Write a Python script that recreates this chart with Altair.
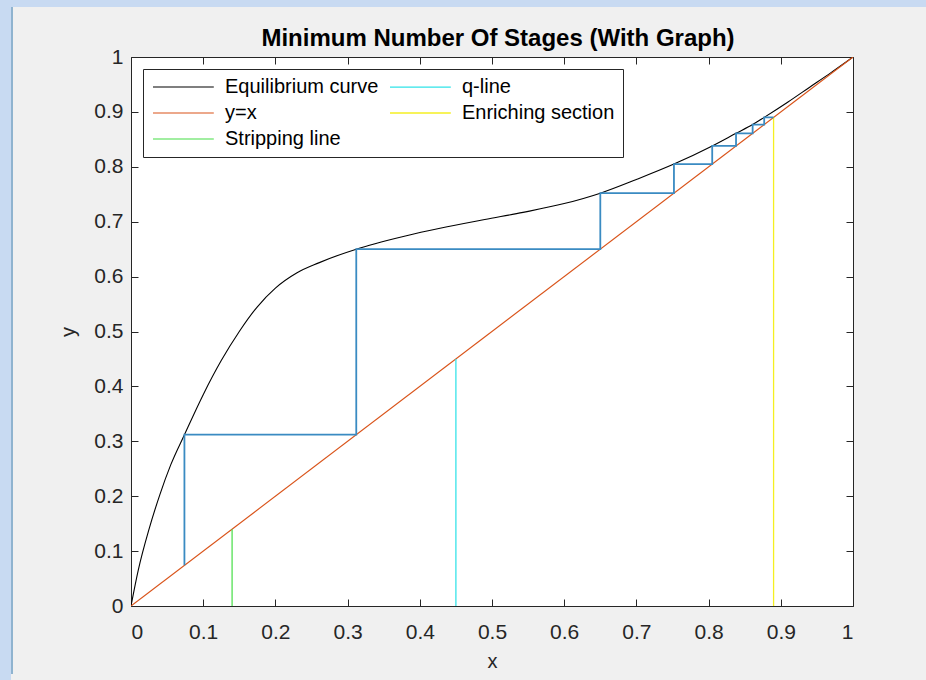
import altair as alt
import pandas as pd

# ---------------- data ----------------
eq_x = [0.0, 0.01, 0.025, 0.04, 0.055, 0.074, 0.10, 0.125, 0.15, 0.175, 0.20, 0.23,
        0.26, 0.312, 0.338, 0.38, 0.428, 0.49, 0.543, 0.60, 0.65, 0.70, 0.752, 0.805,
        0.838, 0.861, 0.877, 0.91, 0.94, 0.97, 1.0]
eq_y = [0.0, 0.065, 0.14, 0.203, 0.257, 0.312, 0.385, 0.447, 0.50, 0.545, 0.579, 0.607,
        0.625, 0.65, 0.66, 0.674, 0.688, 0.704, 0.717, 0.733, 0.752, 0.777, 0.805, 0.838,
        0.861, 0.877, 0.89, 0.918, 0.945, 0.972, 1.0]
diag_x = [0.0, 1.0]
diag_y = [0.0, 1.0]
x_w = 0.14   # stripping line
x_f = 0.45   # q-line
x_d = 0.89   # enriching section

stair_x = [0.89, 0.877, 0.877, 0.861, 0.861, 0.838, 0.838, 0.805, 0.805, 0.752,
           0.752, 0.65, 0.65, 0.312, 0.312, 0.074, 0.074]
stair_y = [0.89, 0.89, 0.877, 0.877, 0.861, 0.861, 0.838, 0.838, 0.805, 0.805,
           0.752, 0.752, 0.65, 0.65, 0.312, 0.312, 0.074]

ticks = [0.0, 0.1, 0.2, 0.3, 0.4, 0.5, 0.6, 0.7, 0.8, 0.9, 1.0]

series_order = ["Equilibrium curve", "y=x", "Stripping line", "q-line", "Enriching section"]
series_colors = ["#000000", "#D95319", "#45DE45", "#2FE3E8", "#F4EF22"]
series_widths = [1.1, 1.3, 1.6, 1.5, 1.6]

TITLE = "Minimum Number Of Stages (With Graph)"

rows = []
for i, (a, b) in enumerate(zip(eq_x, eq_y)):
    rows.append(("Equilibrium curve", a, b, i))
for i, (a, b) in enumerate(zip(diag_x, diag_y)):
    rows.append(("y=x", a, b, i))
for name, xv in [("Stripping line", x_w), ("q-line", x_f), ("Enriching section", x_d)]:
    rows.append((name, xv, 0.0, 0))
    rows.append((name, xv, xv, 1))
df = pd.DataFrame(rows, columns=["series", "x", "y", "ord"])

stairs = pd.DataFrame({"x": stair_x, "y": stair_y, "ord": list(range(len(stair_x)))})

FONT = "Liberation Sans"
AX_COLOR = "#262626"

xs = alt.Scale(domain=[0, 1], nice=False, zero=False)
ys = alt.Scale(domain=[0, 1], nice=False, zero=False)

base_axis = dict(values=ticks, format=".1~f", offset=-7, tickSize=7, domain=False,
                 grid=False, tickColor=AX_COLOR, labelColor=AX_COLOR,
                 labelFont=FONT, labelFontSize=21, tickWidth=1)
title_axis = dict(titleFont=FONT, titleFontSize=20, titleColor=AX_COLOR,
                  titleFontWeight="normal")

lines = alt.Chart(df).mark_line(clip=True, interpolate="monotone").encode(
    x=alt.X("x:Q", scale=xs,
            axis=alt.Axis(orient="bottom", title="x", labelPadding=15, titlePadding=9,
                          **base_axis, **title_axis)),
    y=alt.Y("y:Q", scale=ys,
            axis=alt.Axis(orient="left", title="y", labelPadding=8, titlePadding=15,
                          **base_axis, **title_axis)),
    color=alt.Color("series:N", scale=alt.Scale(domain=series_order, range=series_colors),
                    legend=alt.Legend(title=None, orient="none", legendX=12, legendY=12,
                                      columns=2, direction="vertical",
                                      symbolType="M-1,0H6.6", symbolSize=256,
                                      symbolStrokeWidth=1.2, labelFont=FONT,
                                      labelFontSize=20, labelColor="#000000",
                                      labelOffset=54, columnPadding=8, rowPadding=6,
                                      padding=8, strokeColor=AX_COLOR, fillColor="white",
                                      cornerRadius=0, labelLimit=400)),
    strokeWidth=alt.StrokeWidth("series:N",
                                scale=alt.Scale(domain=series_order, range=series_widths),
                                legend=None),
    order="ord:Q",
)

plain_axis = dict(title=None, labels=False, **base_axis)
stair_layer = alt.Chart(stairs).mark_line(color="#3A8BC2", strokeWidth=1.8, clip=True).encode(
    x=alt.X("x:Q", scale=xs, axis=alt.Axis(orient="top", **plain_axis)),
    y=alt.Y("y:Q", scale=ys, axis=alt.Axis(orient="right", **plain_axis)),
    order="ord:Q",
)

one = pd.DataFrame({"k": [0]})
left_strip = alt.Chart(one).mark_rect(color="#c8daf2").encode(
    x=alt.value(-131), x2=alt.value(-120), y=alt.value(-57), y2=alt.value(623))
left_line = alt.Chart(one).mark_rect(color="#8fb3cf").encode(
    x=alt.value(-120), x2=alt.value(-118), y=alt.value(-50), y2=alt.value(617))
top_strip = alt.Chart(one).mark_rect(color="#c8daf2").encode(
    x=alt.value(-131), x2=alt.value(795), y=alt.value(-57), y2=alt.value(-50))
title_text = alt.Chart(one).mark_text(
    text=TITLE, font=FONT, fontSize=24, fontWeight="bold", color="#000000",
    align="center", baseline="alphabetic").encode(x=alt.value(367), y=alt.value(-11))

chart = alt.layer(left_strip, left_line, top_strip, title_text, lines, stair_layer).resolve_axis(
    x="independent", y="independent"
).properties(
    width=722, height=549,
    autosize=alt.AutoSizeParams(type="none"),
    padding={"left": 131, "top": 57, "right": 73, "bottom": 74},
    background="#f0f0f0",
).configure_view(stroke=AX_COLOR, strokeWidth=1, fill="white")

chart.save("out.html", embed_options={"renderer": "svg", "actions": False})
